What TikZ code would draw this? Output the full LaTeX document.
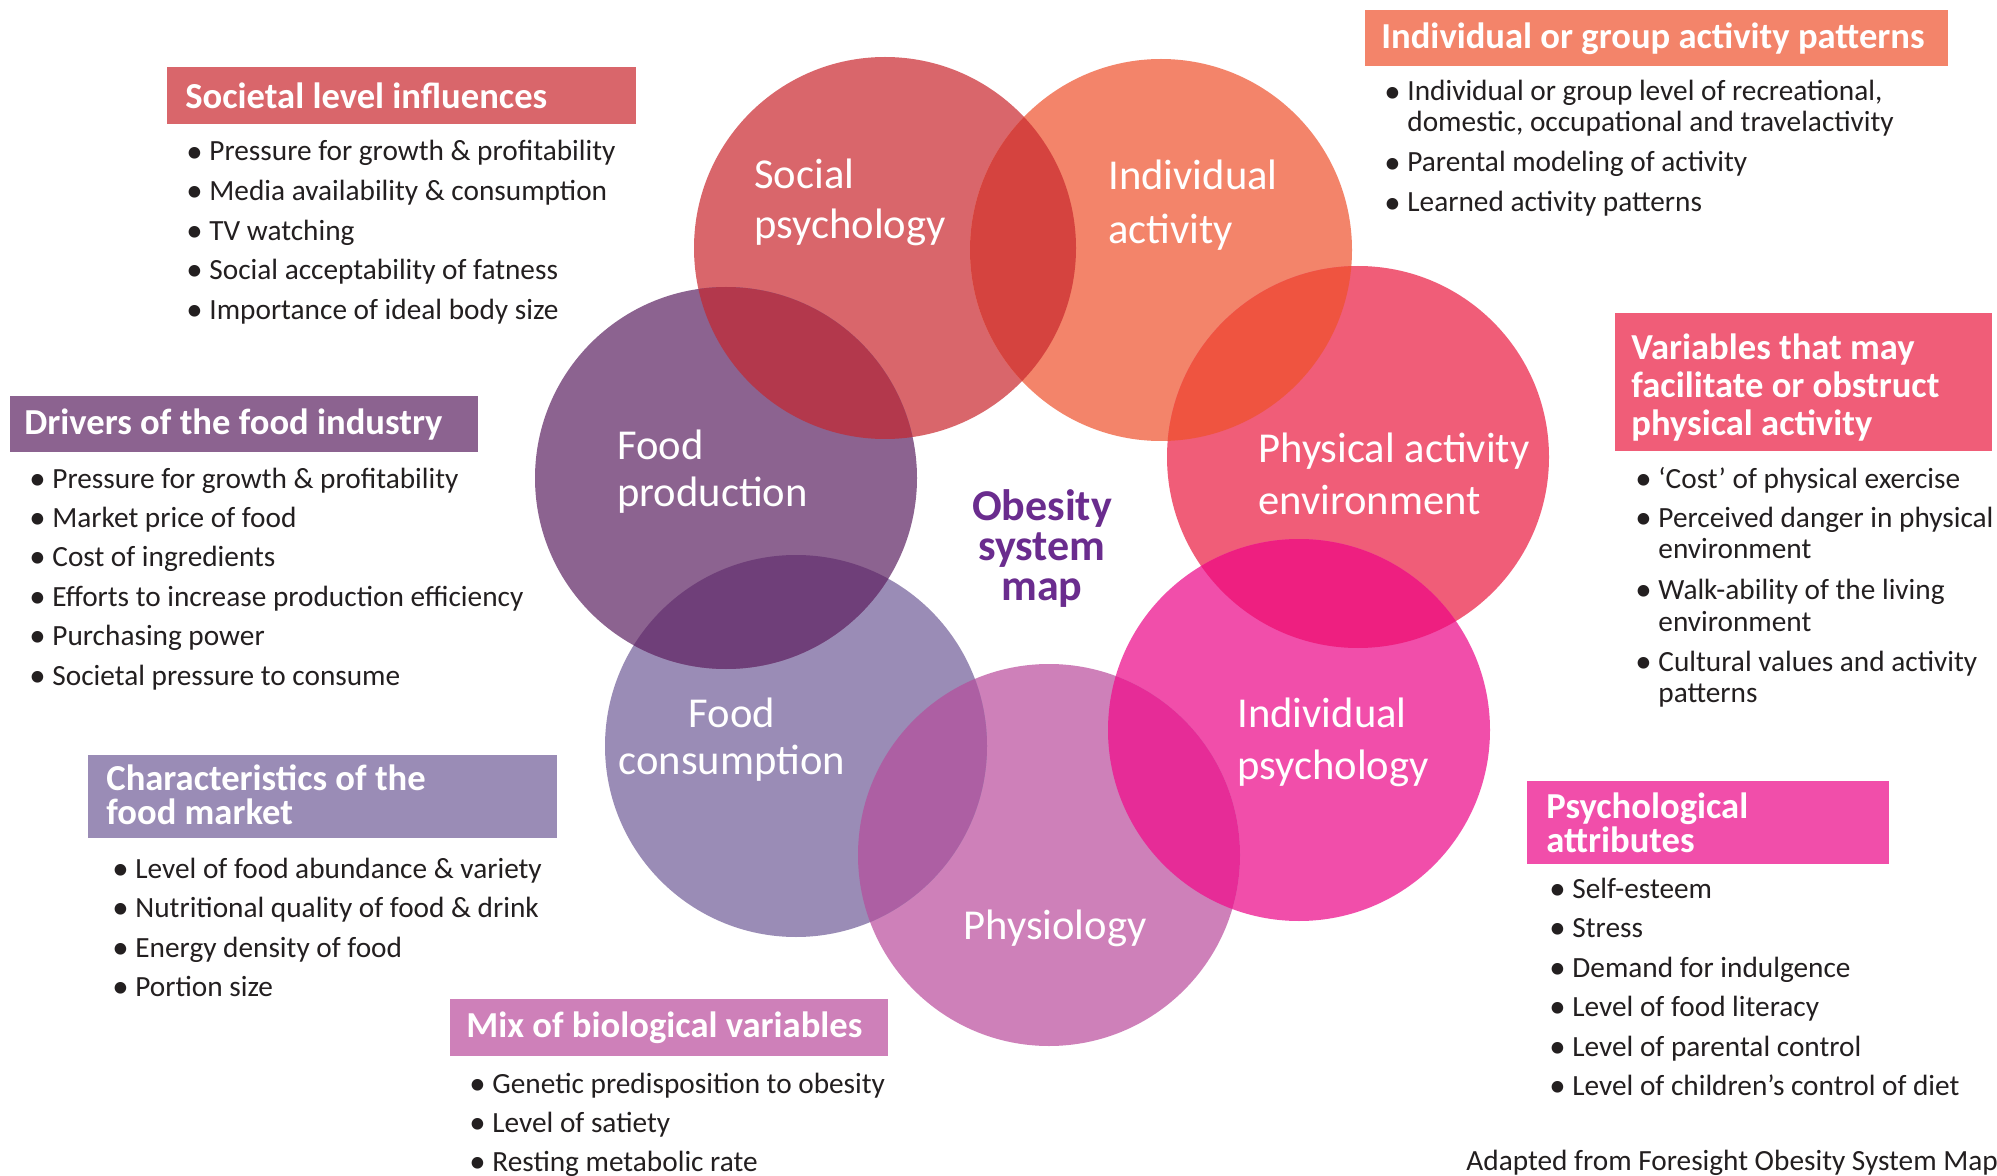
\documentclass[tikz,border=0pt]{standalone}
\usepackage{fontspec}
\setmainfont{Carlito}
\usetikzlibrary{positioning}

\definecolor{socred}{HTML}{D9666B}
\definecolor{actorange}{HTML}{F3846A}
\definecolor{envpink}{HTML}{F05D78}
\definecolor{psymagenta}{HTML}{F14EAA}
\definecolor{physorchid}{HTML}{CE80B9}
\definecolor{conslav}{HTML}{9A8CB6}
\definecolor{prodpurple}{HTML}{8C6390}
\definecolor{mappurple}{HTML}{6A2C8E}
\definecolor{txtblack}{HTML}{231F20}
\definecolor{spia}{HTML}{D5433F}
\definecolor{spfp}{HTML}{B3384C}
\definecolor{fpfc}{HTML}{6F3F79}
\definecolor{fcph}{HTML}{AD5FA3}
\definecolor{phip}{HTML}{E62C97}
\definecolor{ippa}{HTML}{EE1F80}
\definecolor{paia}{HTML}{EF5440}

\newcommand{\bl}{\makebox[9pt][l]{\hspace{-2.5pt}\raisebox{-0.04em}{\scalebox{1.12}{\textbullet}}}}

\begin{document}
\begin{tikzpicture}[x=0.5pt,y=-0.5pt,
  item/.style={anchor=base west,inner sep=0pt,text=txtblack,font=\fontsize{14.65}{16}\selectfont},
  hbox/.style={anchor=north west,fill=#1,inner sep=0pt},
  htext/.style={align=left,inner sep=0pt,text=white,font=\bfseries\fontsize{18.3}{17.2}\selectfont},
  circlabel/.style={anchor=base west,inner sep=0pt,text=white,font=\fontsize{21.3}{25}\selectfont},
  maplabel/.style={anchor=base,inner sep=0pt,text=mappurple,font=\bfseries\fontsize{22}{20}\selectfont}]

\useasboundingbox (0,0) rectangle (1997,1176);
\fill[white] (0,0) rectangle (1997,1176);

\coordinate (sp) at (885,248);
\coordinate (ia) at (1161,250);
\coordinate (pa) at (1358,457);
\coordinate (ip) at (1299,730);
\coordinate (ph) at (1049,855);
\coordinate (fc) at (796,746);
\coordinate (fp) at (726,478);

\foreach \n/\c in {sp/socred,ia/actorange,pa/envpink,ip/psymagenta,ph/physorchid,fc/conslav,fp/prodpurple}
  \fill[\c] (\n) circle[radius=191];

\foreach \a/\b/\c in {sp/ia/spia,sp/fp/spfp,fp/fc/fpfc,fc/ph/fcph,ph/ip/phip,ip/pa/ippa,pa/ia/paia}{
  \begin{scope}
    \clip (\a) circle[radius=191];
    \fill[\c] (\b) circle[radius=191];
  \end{scope}
}

\node[circlabel] (spl1) at (754,189) {Social};
\node[circlabel] (spl2) at (754,239) {psychology};
\node[circlabel] (ial1) at (1108,190) {Individual};
\node[circlabel] (ial2) at (1108,244) {activity};
\node[circlabel] (pal1) at (1258,463) {Physical activity};
\node[circlabel] (pal2) at (1258,515) {environment};
\node[circlabel] (fpl1) at (617,459) {Food};
\node[circlabel] (fpl2) at (617,507) {production};
\node[circlabel,anchor=base] (fcl1) at (732,727) {Food};
\node[circlabel,anchor=base] (fcl2) at (732,774) {consumption};
\node[circlabel] (ipl1) at (1237,727) {Individual};
\node[circlabel] (ipl2) at (1237,779) {psychology};
\node[circlabel,anchor=base] (phl) at (1055,939) {Physiology};

\node[maplabel] (obesity) at (1042,520) {Obesity};
\node[maplabel] (system) at (1042,560) {system};
\node[maplabel] (map) at (1042,600) {map};

\node[hbox=socred,minimum width=234.5pt,minimum height=28.5pt] (hsoc) at (167,67) {};
\node[htext,right=9pt of hsoc.west] (tsoc) {Societal level influences};
\node[hbox=prodpurple,minimum width=234pt,minimum height=28pt] (hdrv) at (10,396) {};
\node[htext,right=7pt of hdrv.west] (tdrv) {Drivers of the food industry};
\node[hbox=conslav,minimum width=234.5pt,minimum height=41.5pt] (hchr) at (88,755) {};
\node[htext,right=9pt of hchr.west,yshift=1pt] (tchr) {Characteristics of the\\food market};
\node[hbox=physorchid,minimum width=219pt,minimum height=28.5pt] (hmix) at (450,999) {};
\node[htext,right=8pt of hmix.west] (tmix) {Mix of biological variables};
\node[hbox=actorange,minimum width=291.5pt,minimum height=28pt] (hgrp) at (1365,10) {};
\node[htext,right=8pt of hgrp.west] (tgrp) {Individual or group activity patterns};
\node[hbox=envpink,minimum width=188.5pt,minimum height=69pt] (hvar) at (1615,313) {};
\node[htext,font=\bfseries\fontsize{18.3}{19}\selectfont,right=8pt of hvar.west,yshift=-2.5pt] (tvar) {Variables that may\\facilitate or obstruct\\physical activity};
\node[hbox=psymagenta,minimum width=181pt,minimum height=41.5pt] (hpsy) at (1527,781) {};
\node[htext,right=9.5pt of hpsy.west] (tpsy) {Psychological\\attributes};

\foreach \t [count=\i from 0] in {Pressure for growth \& profitability,Media availability \& consumption,TV watching,Social acceptability of fatness,Importance of ideal body size}
  \node[item] (soc\i) at (191,{161+39.6*\i}) {\bl\t};

\foreach \t [count=\i from 0] in {Pressure for growth \& profitability,Market price of food,Cost of ingredients,Efforts to increase production efficiency,Purchasing power,Societal pressure to consume}
  \node[item] (drv\i) at (34,{488+39.4*\i}) {\bl\t};

\foreach \t [count=\i from 0] in {Level of food abundance \& variety,Nutritional quality of food \& drink,Energy density of food,Portion size}
  \node[item] (chr\i) at (117,{878+39.6*\i}) {\bl\t};

\foreach \t [count=\i from 0] in {Genetic predisposition to obesity,Level of satiety,Resting metabolic rate}
  \node[item] (mix\i) at (474,{1093+39*\i}) {\bl\t};

\foreach \t [count=\i from 0] in {Self-esteem,Stress,Demand for indulgence,Level of food literacy,Level of parental control,Level of children’s control of diet}
  \node[item] (psy\i) at (1554,{898+39.5*\i}) {\bl\t};

\node[item] (grp0) at (1389,101) {\bl Individual or group level of recreational,};
\node[item] (grp0b) at (1407,132) {domestic, occupational and travelactivity};
\node[item] (grp1) at (1389,172) {\bl Parental modeling of activity};
\node[item] (grp2) at (1389,212) {\bl Learned activity patterns};

\node[item] (var0) at (1640,488) {\bl ‘Cost’ of physical exercise};
\node[item] (var1) at (1640,527) {\bl Perceived danger in physical};
\node[item] (var1b) at (1658,558) {environment};
\node[item] (var2) at (1640,599) {\bl Walk-ability of the living};
\node[item] (var2b) at (1658,631) {environment};
\node[item] (var3) at (1640,671) {\bl Cultural values and activity};
\node[item] (var3b) at (1658,702) {patterns};

\node[item] (src) at (1466,1170) {Adapted from Foresight Obesity System Map};
\end{tikzpicture}
\end{document}
